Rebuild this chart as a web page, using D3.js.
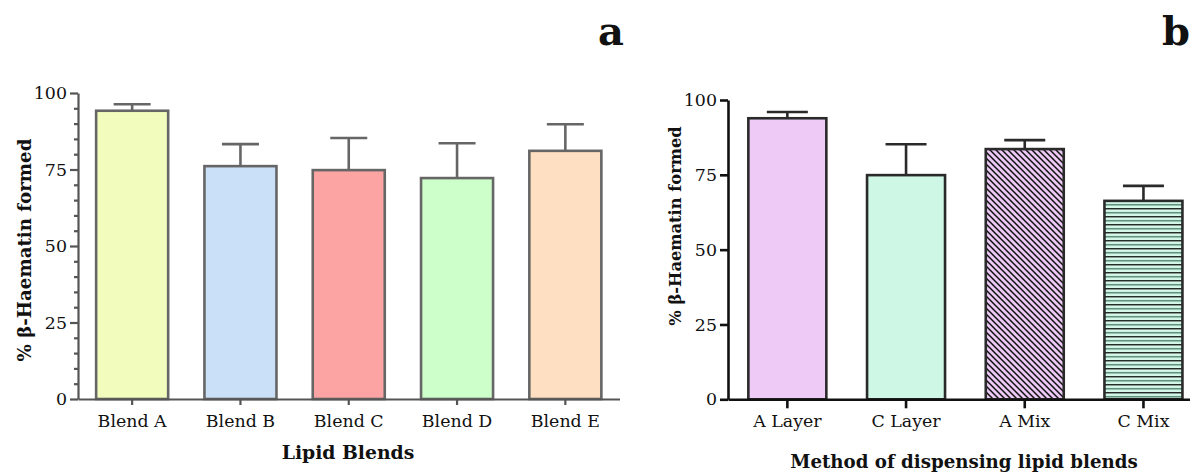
<!DOCTYPE html>
<html>
<head>
<meta charset="utf-8">
<script src="https://cdn.jsdelivr.net/npm/d3@7"></script>
<style>
  html, body { margin: 0; padding: 0; background: #fff; }
  svg { display: block; }
  text { font-family: "DejaVu Serif", serif; fill: #111; }
</style>
</head>
<body>
<svg id="fig" width="1190" height="473"></svg>
<script>
// Panel a: lipid blends
const blendNames = ["Blend A", "Blend B", "Blend C", "Blend D", "Blend E"];
const blendMeans = [94.2, 76.1, 74.8, 72.2, 81.1];
const blendErrors = [2.1, 7.2, 10.5, 11.4, 8.7];
const blendFills = ["#f2fdbd", "#cadff8", "#fca3a3", "#ccffca", "#ffdfc1"];

// Panel b: dispensing method
const methodNames = ["A Layer", "C Layer", "A Mix", "C Mix"];
const methodMeans = [93.9, 74.9, 83.6, 66.3];
const methodErrors = [2.1, 10.3, 3.0, 5.0];
const methodFills = ["#eecbf6", "#cef7e6", "url(#hatchDiag)", "url(#hatchHoriz)"];

const yMajorTicks = [0, 25, 50, 75, 100];
const yMinorTicks = d3.range(5, 100, 5).filter(v => v % 25 !== 0);

const svg = d3.select("#fig");

// Fill patterns for the "Mix" bars
const defs = svg.append("defs");
const diag = defs.append("pattern").attr("id", "hatchDiag")
  .attr("patternUnits", "userSpaceOnUse").attr("width", 6).attr("height", 6);
diag.append("rect").attr("width", 6).attr("height", 6).attr("fill", "#ecc9f5");
diag.append("path").attr("d", "M0,0L6,6M-1,5L1,7M5,-1L7,1")
  .attr("stroke", "#111").attr("stroke-width", 1.5);

const horiz = defs.append("pattern").attr("id", "hatchHoriz")
  .attr("patternUnits", "userSpaceOnUse").attr("width", 8).attr("height", 8);
horiz.append("rect").attr("width", 8).attr("height", 8).attr("fill", "#d4f8e8");
horiz.append("line").attr("x1", 0).attr("x2", 8).attr("y1", 0.75).attr("y2", 0.75)
  .attr("stroke", "#111").attr("stroke-width", 1.3);
horiz.append("line").attr("x1", 0).attr("x2", 8).attr("y1", 4.75).attr("y2", 4.75)
  .attr("stroke", "#62907e").attr("stroke-width", 1.6);

function drawPanel(cfg) {
  const x = d3.scaleBand().domain(cfg.names).range(cfg.xRange)
    .paddingInner(cfg.padInner).paddingOuter(cfg.padInner / 2);
  const y = d3.scaleLinear().domain([0, 100]).range(cfg.yRange);
  const g = svg.append("g");

  // error bars (upper half only, bar covers the lower half)
  g.selectAll(".err").data(cfg.names).join("g").each(function (d, i) {
    const cx = x(d) + x.bandwidth() / 2;
    const top = y(cfg.means[i] + cfg.errors[i]);
    const sel = d3.select(this);
    sel.append("line").attr("x1", cx).attr("x2", cx)
      .attr("y1", y(cfg.means[i])).attr("y2", top);
    sel.append("line").attr("x1", cx - cfg.capHalf).attr("x2", cx + cfg.capHalf)
      .attr("y1", top).attr("y2", top);
  }).attr("stroke", cfg.barStroke).attr("stroke-width", 2.6);

  g.selectAll(".bar").data(cfg.names).join("rect")
    .attr("x", d => x(d))
    .attr("width", x.bandwidth())
    .attr("y", (d, i) => y(cfg.means[i]))
    .attr("height", (d, i) => y(0) - y(cfg.means[i]))
    .attr("fill", (d, i) => cfg.fills[i])
    .attr("stroke", cfg.barStroke).attr("stroke-width", 2.6);

  // y axis
  g.append("g").attr("transform", `translate(${cfg.xRange[0]},0)`)
    .call(d3.axisLeft(y).tickValues(yMajorTicks).tickSize(cfg.majorTick)
      .tickPadding(3).tickSizeOuter(0));
  if (cfg.minor) {
    g.append("g").attr("transform", `translate(${cfg.xRange[0]},0)`)
      .call(d3.axisLeft(y).tickValues(yMinorTicks).tickSize(4).tickFormat(""))
      .call(a => a.select(".domain").remove());
  }
  // x axis
  const xAxis = g.append("g").attr("transform", `translate(0,${cfg.yRange[0]})`)
    .call(d3.axisBottom(x).tickSize(cfg.xTick).tickPadding(9).tickSizeOuter(0));

  g.selectAll(".domain, .tick line")
    .attr("stroke", cfg.axisColor).attr("stroke-width", cfg.axisWidth);
  g.selectAll(".tick text").style("font-family", '"DejaVu Serif", serif')
    .style("font-size", "17.4px").attr("fill", "#111");
  xAxis.selectAll(".tick text").attr("dy", null).attr("y", cfg.xLabelY - cfg.yRange[0]);

  g.append("text").attr("x", cfg.xTitle[0]).attr("y", cfg.xTitle[1])
    .attr("text-anchor", "middle").attr("font-weight", "bold")
    .style("font-size", cfg.xTitleSize + "px").text(cfg.xTitleText);
  g.append("text")
    .attr("transform", `translate(${cfg.yTitle[0]},${cfg.yTitle[1]}) rotate(-90)`)
    .attr("text-anchor", "middle").attr("font-weight", "bold")
    .style("font-size", cfg.yTitleSize + "px").text("% β-Haematin formed");
  g.append("text").attr("x", cfg.letter[0]).attr("y", cfg.letter[1])
    .attr("font-weight", "bold").style("font-size", "40px").text(cfg.letterText);
}

drawPanel({
  names: blendNames, means: blendMeans, errors: blendErrors, fills: blendFills,
  xRange: [78, 619.5], yRange: [399, 93], padInner: 0.335, capHalf: 18.5,
  barStroke: "#666", axisColor: "#555", axisWidth: 2.2, majorTick: 8, xTick: 6,
  minor: true, xLabelY: 426.5,
  xTitle: [348, 458.5], xTitleSize: 18.8, xTitleText: "Lipid Blends",
  yTitle: [31, 250], yTitleSize: 18.2, letter: [598, 45], letterText: "a"
});

drawPanel({
  names: methodNames, means: methodMeans, errors: methodErrors, fills: methodFills,
  xRange: [728, 1202.8], yRange: [399.3, 100], padInner: 0.343, capHalf: 20.5,
  barStroke: "#2a2a2a", axisColor: "#111", axisWidth: 2.6, majorTick: 8, xTick: 9,
  minor: false, xLabelY: 426.7,
  xTitle: [964, 468.3], xTitleSize: 18.2, xTitleText: "Method of dispensing lipid blends",
  yTitle: [681, 226], yTitleSize: 16.3, letter: [1162, 45], letterText: "b"
});
</script>
</body>
</html>
